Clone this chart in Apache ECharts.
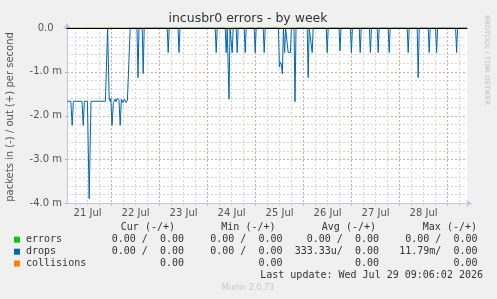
<!DOCTYPE html>
<html>
<head>
<meta charset="utf-8">
<script src="https://cdn.jsdelivr.net/npm/echarts@6/dist/echarts.min.js"></script>
<style>
  html, body { margin: 0; padding: 0; background: #f0f0f0; }
  #chart { width: 497px; height: 299px; }
</style>
</head>
<body>
<div id="chart"></div>
<script>
// x = hours since 21 Jul 00:00, y = packets per second in milli units (in = negative)
let drops = [
  [1.7, -1.67], [3.6, -1.67], [4.3, -2.22], [4.9, -1.67], [9.2, -1.67], [9.8, -2.22],
  [10.4, -1.67], [11.9, -1.67], [12.8, -3.89], [13.7, -1.67], [20.9, -1.67], [22.0, 0],
  [22.8, -1.62], [23.2, -1.67], [23.6, -1.6], [24.2, -2.22], [24.9, -1.7], [25.7, -1.62],
  [26.2, -1.68], [26.9, -1.6], [27.7, -1.65], [28.3, -2.22], [28.9, -1.62], [29.7, -1.7],
  [30.4, -1.62], [31.2, -1.7], [31.9, -1.65], [32.5, -1.67], [33.3, 0],
  [36.7, 0], [37.2, -1.13], [37.7, 0],
  [39.3, 0], [39.8, -1.04], [40.3, 0],
  [51.8, 0], [52.3, -0.56], [52.8, 0],
  [57.2, 0], [57.7, -0.56], [58.2, 0],
  [75.8, 0], [76.3, -0.56], [76.8, 0],
  [80.8, 0], [81.3, -0.56], [81.8, 0],
  [82.2, 0], [82.7, -1.62], [83.2, 0],
  [83.8, 0], [84.3, -0.56], [84.8, 0],
  [86.3, 0], [86.8, -0.56], [87.3, 0],
  [90.3, 0], [90.8, -0.56], [91.3, 0],
  [95.3, 0], [95.8, -0.56], [96.3, 0],
  [99.8, 0], [100.3, -0.56], [100.8, 0],
  [107.4, 0], [107.9, -0.88], [108.4, -0.78], [108.9, -0.83], [109.4, -1.05], [109.9, 0],
  [110.5, -0.56], [111.0, 0],
  [111.8, 0], [112.3, -0.56], [113.4, -0.56], [113.9, 0],
  [115.2, 0], [115.7, -1.68], [116.2, 0],
  [121.8, 0], [122.3, -1.13], [122.8, 0],
  [123.8, 0], [124.3, -0.56], [124.8, 0],
  [131.3, 0], [131.8, -0.56], [132.3, 0],
  [137.7, 0], [138.2, -0.52], [138.7, 0],
  [143.4, 0], [143.9, -0.56], [144.4, 0],
  [147.8, 0], [148.3, -0.56], [148.8, 0],
  [152.9, 0], [153.4, -0.56], [153.9, 0],
  [156.8, 0], [157.3, -0.56], [157.8, 0],
  [162.3, 0], [162.8, -0.56], [163.3, 0],
  [171.8, 0], [172.3, -0.56], [172.8, 0],
  [176.8, 0], [177.3, -1.13], [177.8, 0],
  [182.3, 0], [182.8, -0.56], [183.3, 0],
  [186.0, 0], [186.5, -0.56], [187.0, 0],
  [196.0, 0], [196.5, -0.56], [197.0, 0],
  [201.7, 0],
];
let errors = [[1.7, 0], [201.7, 0]];
let collisions = [[1.7, 0], [201.7, 0]];

let startHour = 1.7;
let endHour = 201.7;
let dayLabels = ["21 Jul", "22 Jul", "23 Jul", "24 Jul", "25 Jul", "26 Jul", "27 Jul", "28 Jul"];
let dayNoons = [12, 36, 60, 84, 108, 132, 156, 180];

let statHeaders = ["Cur (-/+)", "Min (-/+)", "Avg (-/+)", "Max (-/+)"];
let errorsStats = ["0.00 /  0.00", "0.00 /  0.00", "0.00 /  0.00", "0.00 /  0.00"];
let dropsStats = ["0.00 /  0.00", "0.00 /  0.00", "333.33u/  0.00", "11.79m/  0.00"];
let collisionsStats = ["0.00", "0.00", "0.00", "0.00"];
let lastUpdate = "Last update: Wed Jul 29 09:06:02 2026";

let blue = "#0066b3";
let green = "#00cc00";
let orange = "#ff8000";
let axisColor = "#c4c4e4";
let majorGrid = "#e4a0a0";
let minorGrid = "#d4d4d4";
let mono = "10px 'DejaVu Sans Mono'";

let midnights = [];
let sixHours = [];
for (let h = 6; h < endHour; h += 6) {
  if (h % 24 === 0) midnights.push(h);
  else sixHours.push(h);
}

let chart = echarts.init(document.getElementById("chart"));

let txt = (text, x, y, font, fill, align, extra) =>
  Object.assign({
    type: "text",
    silent: true,
    style: {
      text: text, x: x, y: y, font: font, fill: fill,
      align: align, textAlign: align,
      verticalAlign: "middle", textVerticalAlign: "middle",
    },
  }, extra || {});

let graphics = [
  txt("incusbr0 errors - by week", 248, 19, "12.5px 'DejaVu Sans'", "#333", "center"),
  txt("packets in (-) / out (+) per second", 0, 0, "10px 'DejaVu Sans'", "#555", "center", { rotation: Math.PI / 2, x: 10, y: 117 }),
  txt("RRDTOOL / TOBI OETIKER", 0, 0, "7px 'DejaVu Sans'", "#c0c0c0", "left", { rotation: -Math.PI / 2, x: 487, y: 15 }),
  txt("Munin 2.0.73", 248, 288, "8px 'DejaVu Sans'", "#c8c8c8", "center"),
  txt(lastUpdate, 483, 275.7, mono, "#333", "right"),
];

let headerRight = [175, 275.5, 376, 477];
let valueRight = [184, 282.5, 379, 477.5];
statHeaders.forEach((h, i) => graphics.push(txt(h, headerRight[i], 227.3, mono, "#333", "right")));
let rows = [
  ["errors", green, errorsStats, 239.7],
  ["drops", blue, dropsStats, 251.7],
  ["collisions", orange, collisionsStats, 263.5],
];
rows.forEach(([name, color, stats, y]) => {
  graphics.push({ type: "rect", silent: true, shape: { x: 14, y: y - 3, width: 6, height: 6 }, style: { fill: color } });
  graphics.push(txt(name, 26, y, mono, "#333", "left"));
  stats.forEach((s, i) => graphics.push(txt(s, valueRight[i], y, mono, "#333", "right")));
});

let option = {
  backgroundColor: "#f0f0f0",
  animation: false,
  grid: {
    left: 67, top: 28, width: 400, height: 175.5,
    show: true, backgroundColor: "#ffffff", borderWidth: 0,
  },
  xAxis: [
    {
      type: "value", position: "bottom", min: startHour, max: endHour,
      axisLine: { onZero: false, lineStyle: { color: axisColor }, symbol: ["none", "arrow"], symbolSize: [6, 6], symbolOffset: [0, 5] },
      axisTick: { customValues: sixHours, length: 2, lineStyle: { color: minorGrid } },
      axisLabel: { show: false },
      splitLine: { show: true, lineStyle: { color: minorGrid, type: [2, 2] } },
    },
    {
      type: "value", position: "bottom", min: startHour, max: endHour,
      axisLine: { show: false, onZero: false },
      axisTick: { customValues: midnights, length: 2, lineStyle: { color: majorGrid } },
      axisLabel: {
        customValues: dayNoons, margin: 5,
        color: "#555", fontFamily: "DejaVu Sans", fontSize: 10,
        formatter: (v) => dayLabels[dayNoons.indexOf(v)] || "",
      },
      splitLine: { show: true, lineStyle: { color: majorGrid, type: [2, 2] } },
    },
    {
      type: "value", position: "bottom", min: startHour, max: endHour, z: 10,
      axisLine: { onZero: true, lineStyle: { color: "#000000", width: 1 } },
      axisTick: { show: false }, axisLabel: { show: false }, splitLine: { show: false },
    },
  ],
  yAxis: {
    type: "value", min: -4, max: 0, interval: 1,
    axisLine: { show: true, lineStyle: { color: axisColor }, symbol: ["none", "arrow"], symbolSize: [6, 6], symbolOffset: [0, 5] },
    axisTick: { show: true, length: 2, lineStyle: { color: majorGrid } },
    axisLabel: {
      margin: 5, color: "#555", fontFamily: "DejaVu Sans", fontSize: 10,
      formatter: (v) => (v === 0 ? "0.0  \u2009" : v.toFixed(1) + " m"),
    },
    splitLine: { lineStyle: { color: majorGrid, type: [2, 2] } },
    minorTick: { show: false, splitNumber: 5 },
    minorSplitLine: { show: true, lineStyle: { color: minorGrid, type: [2, 2] } },
  },
  graphic: graphics,
  series: [
    { name: "errors", type: "line", data: errors, showSymbol: false, lineStyle: { color: green, width: 1 }, z: 1 },
    { name: "collisions", type: "line", data: collisions, showSymbol: false, lineStyle: { color: orange, width: 1 }, z: 1 },
    { name: "drops", type: "line", data: drops, showSymbol: false, lineStyle: { color: blue, width: 1 }, z: 2 },
  ],
};
chart.setOption(option);
</script>
</body>
</html>
